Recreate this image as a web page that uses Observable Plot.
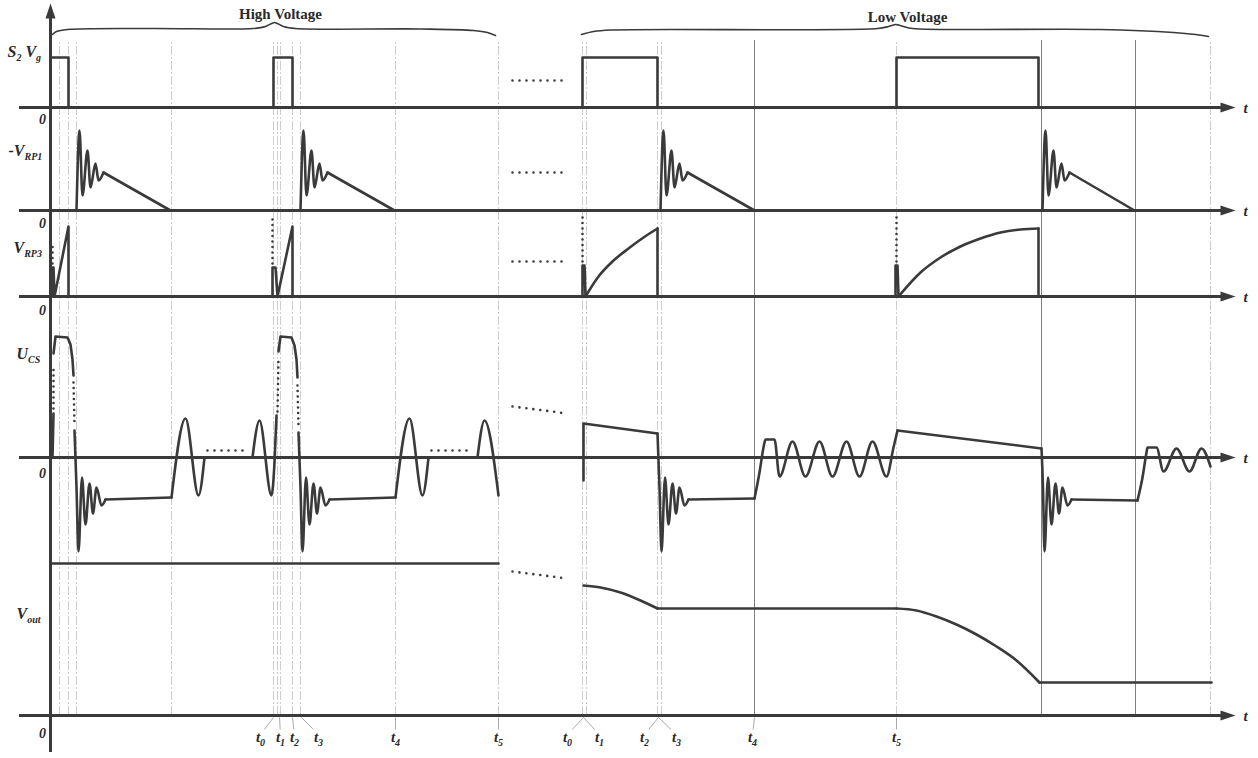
<!DOCTYPE html>
<html><head><meta charset="utf-8">
<script src="https://cdn.jsdelivr.net/npm/d3@7"></script>
<script src="https://cdn.jsdelivr.net/npm/@observablehq/plot@0.6"></script>
<style>html,body{margin:0;padding:0;background:#fff}svg{display:block}</style>
</head><body><div id="chart"></div>
<script>
// ================= DATA (time t in arbitrary units, 0 = vertical axis; v = signal height above its own zero line) =================
// Gate drive S2 Vg: on-intervals
const s2Pulses = [[0, 18], [223, 242], [532, 607], [846, 988]];
const s2High = 50;

// -V_RP1: damped ringing then linear discharge
const vrp1RingShape = [[0, 0], [3, 80], [6, 15], [11, 60], [14, 23], [19, 47], [22, 30], [27, 38]];
const vrp1RingStart = [26, 250, 610, 992];
const vrp1RampEnd = [120, 344, 704, 1084];

// V_RP3
const vrp3Spikes = [
  [[2, 0], [2, 29], [3, 29], [4, 0], [18, 70], [18, 0]],
  [[222, 0], [222, 29], [225, 29], [227, 0], [242, 70], [242, 0]],
  [[532, 0], [532, 31], [534, 31], [535, 0]],
  [[845, 0], [845, 31], [847, 31], [848, 0]]
];
const vrp3Charge = [
  [[535, 0], [548, 20], [562, 35], [578, 48], [593, 59], [607, 68]],
  [[848, 0], [870, 24], [890, 39], [910, 50], [930, 58], [950, 64], [970, 67], [988, 68]]
];
const vrp3Drops = [[[607, 68], [607, 0]], [[988, 68], [988, 0]]];
const vrp3Dots = [[[2, 33], [2, 50]], [[222, 33], [222, 81]], [[532, 35], [532, 81]], [[846, 35], [846, 81]]];

// U_CS
const ucsRingShape = [[0, -94], [3.5, -20], [7, -67], [11, -26], [14.5, -56], [18, -30], [23, -48], [27, -42]];
const ucsRingTrough = [28, 252, 611, 994];
const ucsFallLead = [[[24, 27], [26, -30]], [[248, 25], [250, -30]], [[607, 24], [609, -30]], [[991, 9], [992.5, -30]]];
const ucsStraight = [
  [[2, 0], [3, 44]],
  [[3, 104], [5, 121], [17, 120], [20, 113], [22, 98], [23, 82]],
  [[55, -42], [121, -40]],
  [[228, 106], [230, 121], [241, 120], [244, 112], [246, 98], [247, 80]],
  [[279, -42], [345, -40]],
  [[533, -23], [533, 34], [607, 24]],
  [[638, -42], [704, -41]],
  [[847, 27], [991, 9]],
  [[1021, -42], [1087, -43]]
];
const ucsWaves = [
  [[121, -40], [135, 39], [148, -38], [154, 0]],
  [[202, 0], [209, 37], [221, -38], [224, -5], [226, 42]],
  [[345, -40], [359, 39], [372, -38], [378, 0]],
  [[427, 0], [434, 37], [448, -38]],
  [[704, -41], [709, -15], [713, 10], [715, 18], [724, 18], [729, -19], [742, 16], [755, -19], [769, 16], [782, -19], [796, 16], [809, -19], [822, 16], [836, -19], [843, 10], [847, 27]],
  [[1087, -43], [1092, -20], [1096, 5], [1097, 10], [1106, 10], [1113, -14], [1126, 9], [1139, -14], [1151, 9], [1160, -9]]
];
const ucsDots = [[[3, 49], [3, 92]], [[23, 75], [24, 33]], [[157, 7], [198, 7]], [[227, 46], [228, 100]], [[247, 72], [248, 30]], [[381, 7], [422, 7]], [[462, 51], [517, 44]]];

// V_out
const voutStraight = [[[0, 152], [448, 152]], [[607, 107], [846, 107]], [[989, 33], [1161, 33]]];
const voutCurves = [
  [[533, 130], [550, 128], [570, 123], [590, 115], [607, 107]],
  [[846, 107], [866, 105], [886, 99], [906, 91], [926, 81], [946, 69], [966, 55], [989, 33]]
];
const voutDots = [[[462, 144], [517, 137]]];

// section braces (height above header line)
const highBrace = [[2, 6], [6, 9], [17, 11], [100, 12], [203, 12], [215, 14], [221, 17], [224, 18], [227, 17], [233, 14], [245, 12], [370, 11.5], [423, 10], [437, 8], [445, 5]];
const lowBrace = [[531, 6], [543, 9], [560, 10.5], [827, 12], [838, 14], [843, 15.5], [845, 16], [848, 15.5], [853, 14], [862, 12], [1050, 11], [1123, 8], [1145, 6], [1158, 4]];
const sectionNames = ["High Voltage", "Low Voltage"];

// time instants
const tickNames = ["t_{0}", "t_{1}", "t_{2}", "t_{3}", "t_{4}", "t_{5}"];
const hvTickTimes = [223, 229, 242, 251, 345, 448];
const lvTickTimes = [533, 533, 608, 608, 704, 846];
const guideTimes = [9, 18, 26, 121, 223, 227, 230, 242, 250, 345, 448, 532, 536, 607, 611, 846, 1160];
const strongGuideTimes = [704, 991, 1085];

// signal names
const signalNames = ["S_{2} V_{g}", "-V_{RP1}", "V_{RP3}", "U_{CS}", "V_{out}"];

// ================= LAYOUT (positions only) =================
const base = {S2: 651, VRP1: 548, VRP3: 462, UCS: 301, Vout: 43, head: 718};
const panelKeys = ["S2", "VRP1", "VRP3", "UCS", "Vout"];
const nameT = [-43, -42, -37, -34, -34];
const nameLevel = [702, 603, 506, 400, 140];
const zeroLevel = [635, 531, 444, 281, 21];
const hvLabelT = [210, 230, 244, 268, 345, 448];
const lvLabelT = [517, 549, 594, 626, 702, 846];
const headT = [230, 857], headLevel = [740, 737];
const INK = "#3a3a3a";

// ================= BUILD ROWS =================
const segs = [];
const push = (panel, pts, kind) => segs.push({panel, pts, kind});
const shift = (shape, t0) => shape.map(([dt, v]) => [t0 + dt, v]);

s2Pulses.forEach(([a, b]) => push("S2", [[a, 0], [a, s2High], [b, s2High], [b, 0]], "lin"));
push("S2", [[462, 27], [518, 27]], "dot");

vrp1RingStart.forEach((s, i) => {
  const ring = shift(vrp1RingShape, s);
  push("VRP1", ring, "mono");
  push("VRP1", [ring[ring.length - 1], [vrp1RampEnd[i], 0]], "lin");
});
push("VRP1", [[462, 38], [518, 38]], "dot");

vrp3Spikes.forEach(p => push("VRP3", p, "lin"));
vrp3Charge.forEach(p => push("VRP3", p, "mono"));
vrp3Drops.forEach(p => push("VRP3", p, "lin"));
vrp3Dots.forEach(p => push("VRP3", p, "dotv"));
push("VRP3", [[462, 35], [518, 35]], "dot");

ucsStraight.forEach(p => push("UCS", p, "lin"));
ucsRingTrough.forEach((tr, i) => push("UCS", [...ucsFallLead[i], ...shift(ucsRingShape, tr)], "mono"));
ucsWaves.forEach(p => push("UCS", p, "mono"));
ucsDots.forEach((p, i) => push("UCS", p, i === 6 || i === 2 || i === 5 ? "dot" : "dotv"));

voutStraight.forEach(p => push("Vout", p, "lin"));
voutCurves.forEach(p => push("Vout", p, "mono"));
voutDots.forEach(p => push("Vout", p, "dot"));

push("head", highBrace, "brace");
push("head", lowBrace, "brace");

const rows = segs.flatMap((s, i) => s.pts.map(([t, v]) => ({id: i, t, y: base[s.panel] + v, kind: s.kind})));
const of = k => rows.filter(r => r.kind === k);

const arrowSym = {draw(ctx) { ctx.moveTo(8, 0); ctx.lineTo(-7, -5); ctx.lineTo(-7, 5); ctx.closePath(); }};

const ticks = [
  ...tickNames.map((n, i) => ({n, t: hvTickTimes[i], lt: hvLabelT[i]})),
  ...tickNames.map((n, i) => ({n, t: lvTickTimes[i], lt: lvLabelT[i]}))
];
const leaders = ticks.map(d => ({x1: d.t, x2: d.lt === d.t ? d.t : d.lt + (d.t - d.lt) * 0.3, y1: 41, y2: 29}));

const font = {fontFamily: "Liberation Serif", fontWeight: "bold", fontStyle: "italic", lineAnchor: "bottom", fill: "#2a2a2a"};

const svg = Plot.plot({
  width: 1258, height: 758, margin: 0,
  x: {domain: [-50, 1208], axis: null},
  y: {domain: [0, 758], axis: null},
  style: {background: "#fff"},
  marks: [
    Plot.ruleX(guideTimes, {x: d => d, y1: 43, y2: 718, stroke: "#cdcdcd", strokeWidth: 1, strokeDasharray: "9,2,2,2"}),
    Plot.ruleX(strongGuideTimes, {x: d => d, y1: 43, y2: 718, stroke: "#808080", strokeWidth: 1}),
    Plot.link(leaders, {x1: "x1", x2: "x2", y1: "y1", y2: "y2", stroke: "#a0a0a0", strokeWidth: 0.9}),
    Plot.ruleY(panelKeys.map(k => base[k]), {y: d => d, x1: -31, x2: 1172, stroke: INK, strokeWidth: 3}),
    Plot.dot(panelKeys.map(k => base[k]), {x: 1177, y: d => d, symbol: arrowSym, fill: INK, stroke: "none"}),
    Plot.ruleX([0], {x: d => d, y1: 6, y2: 745, stroke: INK, strokeWidth: 3}),
    Plot.dot([0], {x: d => d, y: 747, symbol: arrowSym, rotate: -90, fill: INK, stroke: "none"}),
    Plot.line(of("lin"), {x: "t", y: "y", z: "id", stroke: INK, strokeWidth: 2.6, strokeLinejoin: "round"}),
    Plot.line(of("mono"), {x: "t", y: "y", z: "id", curve: "monotone-x", stroke: INK, strokeWidth: 2.6}),
    Plot.line(of("brace"), {x: "t", y: "y", z: "id", curve: "catmull-rom", stroke: INK, strokeWidth: 1.6}),
    Plot.line(of("dot"), {x: "t", y: "y", z: "id", stroke: INK, strokeWidth: 2.6, strokeDasharray: "0,7", strokeLinecap: "round"}),
    Plot.line(of("dotv"), {x: "t", y: "y", z: "id", stroke: INK, strokeWidth: 2.6, strokeDasharray: "0,5.5", strokeLinecap: "round"}),
    Plot.text(sectionNames, {x: (d, i) => headT[i], y: (d, i) => headLevel[i], text: d => d, fontFamily: "Liberation Serif", fontWeight: "bold", fontSize: 15, lineAnchor: "bottom", fill: "#2a2a2a"}),
    Plot.text(signalNames, {x: (d, i) => nameT[i], y: (d, i) => nameLevel[i], text: d => d, textAnchor: "start", fontSize: 16, ...font}),
    Plot.text(zeroLevel, {x: -8, y: d => d, text: () => "0", fontSize: 14, ...font}),
    Plot.text(panelKeys.map(k => base[k]), {x: 1193, y: d => d - 5, text: () => "t", fontSize: 15, textAnchor: "start", ...font}),
    Plot.text(ticks, {x: "lt", y: 17, text: "n", fontSize: 15, ...font})
  ]
});

// render subscripts written as _{...}
svg.querySelectorAll("text").forEach(el => {
  const s = el.textContent;
  if (!s.includes("_{")) return;
  const parts = s.split(/(_\{[^}]*\})/).filter(p => p);
  el.textContent = "";
  let down = false;
  for (const p of parts) {
    const ts = document.createElementNS("http://www.w3.org/2000/svg", "tspan");
    if (p.startsWith("_{")) {
      ts.textContent = p.slice(2, -1);
      ts.setAttribute("font-size", "10");
      if (!down) ts.setAttribute("dy", "4");
      down = true;
    } else {
      ts.textContent = p;
      if (down) ts.setAttribute("dy", "-4");
      down = false;
    }
    el.appendChild(ts);
  }
});
document.getElementById("chart").appendChild(svg);
</script></body></html>
